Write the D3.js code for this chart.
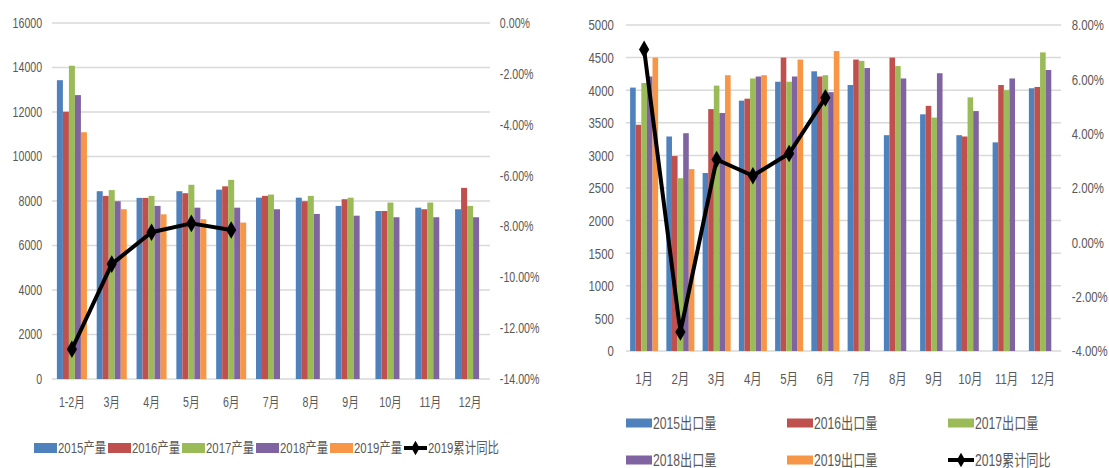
<html>
<head>
<style>
    body { margin: 0; background: #fff; }
    text { font-family: "Liberation Sans", "Noto Sans CJK SC", sans-serif; fill: #595959; }
</style>
</head>
<body>
<svg id="container" width="1109" height="468"></svg>
<script src="https://d3js.org/d3.v7.min.js"></script>
<script>
// ---- left panel: production ----
const prodMonths = ["1-2月", "3月", "4月", "5月", "6月", "7月", "8月", "9月", "10月", "11月", "12月"]
const prod2015 = [13430, 8440, 8140, 8440, 8510, 8150, 8150, 7780, 7550, 7700, 7630]
const prod2016 = [12010, 8230, 8140, 8350, 8660, 8230, 7990, 8080, 7550, 7630, 8590]
const prod2017 = [14080, 8490, 8230, 8730, 8950, 8290, 8230, 8150, 7930, 7930, 7780]
const prod2018 = [12760, 7990, 7780, 7700, 7700, 7630, 7420, 7340, 7270, 7270, 7270]
const prod2019 = [11090, 7630, 7400, 7180, 7030]
const prodYoY = [-12.83, -9.48, -8.23, -7.88, -8.14]   // %
const prodYTicks = [0, 2000, 4000, 6000, 8000, 10000, 12000, 14000, 16000]
const prodPctTicks = [0, -2, -4, -6, -8, -10, -12, -14]
const prodLegend = ["2015产量", "2016产量", "2017产量", "2018产量", "2019产量", "2019累计同比"]

// ---- right panel: exports ----
const expMonths = ["1月", "2月", "3月", "4月", "5月", "6月", "7月", "8月", "9月", "10月", "11月", "12月"]
const exp2015 = [4040, 3290, 2730, 3840, 4130, 4290, 4080, 3310, 3630, 3310, 3200, 4030]
const exp2016 = [3470, 2990, 3710, 3870, 4500, 4210, 4470, 4500, 3760, 3290, 4080, 4050]
const exp2017 = [4110, 2650, 4070, 4180, 4130, 4230, 4450, 4370, 3580, 3890, 4000, 4580]
const exp2018 = [4210, 3340, 3650, 4210, 4210, 3970, 4340, 4180, 4260, 3680, 4180, 4310]
const exp2019 = [4500, 2790, 4230, 4230, 4470, 4600]
const expYoY = [7.10, -3.30, 3.05, 2.45, 3.27, 5.32]   // %
const expYTicks = [0, 500, 1000, 1500, 2000, 2500, 3000, 3500, 4000, 4500, 5000]
const expPctTicks = [-4, -2, 0, 2, 4, 6, 8]
const expLegend = ["2015出口量", "2016出口量", "2017出口量", "2018出口量", "2019出口量", "2019累计同比"]

const colors = ["#4f81bd", "#c0504d", "#9bbb59", "#8064a2", "#f79646"]
const squeeze = "scale(0.76,1)"   // the source text is narrow

let svg = d3.select("#container")

function drawPanel(opt) {
    let g = svg.append("g")
    let xScale = d3.scaleBand()
        .domain(opt.months)
        .range([opt.x0, opt.x1])
        .paddingInner(opt.pad)
        .paddingOuter(opt.pad / 2)
    let sScale = d3.scaleBand()
        .domain(d3.range(5))
        .range([0, xScale.bandwidth()])
    let yScale = d3.scaleLinear()
        .domain([0, d3.max(opt.yTicks)])
        .range([opt.y0, opt.y1])
    let pScale = d3.scaleLinear()
        .domain(opt.pctDomain)
        .range([opt.y0, opt.y1])

    // gridlines
    g.selectAll(".grid")
        .data(opt.yTicks)
        .join("line")
        .attr("x1", opt.x0).attr("x2", opt.x1)
        .attr("y1", d => yScale(d)).attr("y2", d => yScale(d))
        .attr("stroke", "#d9d9d9")
        .attr("stroke-width", 1.5)

    // bars
    opt.series.forEach((vals, i) => {
        g.selectAll(".bar" + i)
            .data(vals)
            .join("rect")
            .attr("x", (d, j) => xScale(opt.months[j]) + sScale(i))
            .attr("width", sScale.bandwidth())
            .attr("y", d => yScale(d))
            .attr("height", d => yScale(0) - yScale(d))
            .attr("fill", colors[i])
    })

    // axes
    let left = g.append("g")
        .attr("transform", "translate(" + opt.x0 + ",0)")
        .call(d3.axisLeft(yScale).tickValues(opt.yTicks).tickSize(0).tickPadding(opt.padL)
            .tickFormat(d3.format("d")))
    let right = g.append("g")
        .attr("transform", "translate(" + opt.x1 + ",0)")
        .call(d3.axisRight(pScale).tickValues(opt.pctTicks).tickSize(0).tickPadding(opt.padR)
            .tickFormat(d => d.toFixed(2) + "%"))
    let bottom = g.append("g")
        .attr("transform", "translate(0," + opt.y0 + ")")
        .call(d3.axisBottom(xScale).tickSize(0).tickPadding(opt.padB))
    ;[left, right, bottom].forEach(ax => {
        ax.select("path.domain").remove()
        ax.selectAll("text")
            .attr("fill", "#595959")
            .style("font-size", opt.fs + "px")
            .attr("transform", squeeze)
    })

    // cumulative yoy line
    let line = d3.line()
        .x((d, j) => xScale(opt.months[j]) + xScale.bandwidth() / 2)
        .y(d => pScale(d))
    g.append("path")
        .datum(opt.yoy)
        .attr("d", line)
        .attr("fill", "none")
        .attr("stroke", "#000")
        .attr("stroke-width", 4)
        .attr("stroke-linejoin", "round")
    g.selectAll(".mark")
        .data(opt.yoy)
        .join("path")
        .attr("d", d3.symbol(d3.symbolDiamond, 90))
        .attr("transform", (d, j) => "translate(" + (xScale(opt.months[j]) + xScale.bandwidth() / 2) + "," + pScale(d) + ")")
        .attr("fill", "#000")

    // legend
    opt.legend.forEach((name, i) => {
        let pos = opt.legendPos(i)
        let lg = g.append("g").attr("transform", "translate(" + pos[0] + "," + pos[1] + ")")
        if (i < 5) {
            lg.append("rect")
                .attr("x", 0).attr("y", -opt.swH / 2)
                .attr("width", opt.swW).attr("height", opt.swH)
                .attr("fill", colors[i])
        } else {
            lg.append("line")
                .attr("x1", 0).attr("x2", opt.swW)
                .attr("stroke", "#000").attr("stroke-width", 4)
            lg.append("path")
                .attr("d", d3.symbol(d3.symbolDiamond, 60))
                .attr("transform", "translate(" + opt.swW / 2 + ",0)")
                .attr("fill", "#000")
        }
        lg.append("g")
            .attr("transform", "translate(" + (opt.swW + 1) + ",0)")
            .append("text")
            .attr("transform", squeeze)
            .attr("dy", "0.35em")
            .style("font-size", (opt.fs + 1) + "px")
            .text(name)
    })
}

drawPanel({
    months: prodMonths,
    series: [prod2015, prod2016, prod2017, prod2018, prod2019],
    yoy: prodYoY,
    yTicks: prodYTicks,
    pctTicks: prodPctTicks,
    pctDomain: [-14, 0],
    legend: prodLegend,
    x0: 52, x1: 490, y0: 379, y1: 23,
    pad: 0.246,
    padL: 13, padR: 13, padB: 18,
    fs: 14,
    swW: 23, swH: 10,
    legendPos: i => [34 + i * 74, 448]
})

drawPanel({
    months: expMonths,
    series: [exp2015, exp2016, exp2017, exp2018, exp2019],
    yoy: expYoY,
    yTicks: expYTicks,
    pctTicks: expPctTicks,
    pctDomain: [-4, 8],
    legend: expLegend,
    x0: 626, x1: 1061, y0: 351, y1: 25,
    pad: 0.227,
    padL: 16, padR: 14, padB: 22,
    fs: 15,
    swW: 26, swH: 9,
    legendPos: i => [626 + (i % 3) * 161, i < 3 ? 423 : 460]
})
</script>
</body>
</html>
